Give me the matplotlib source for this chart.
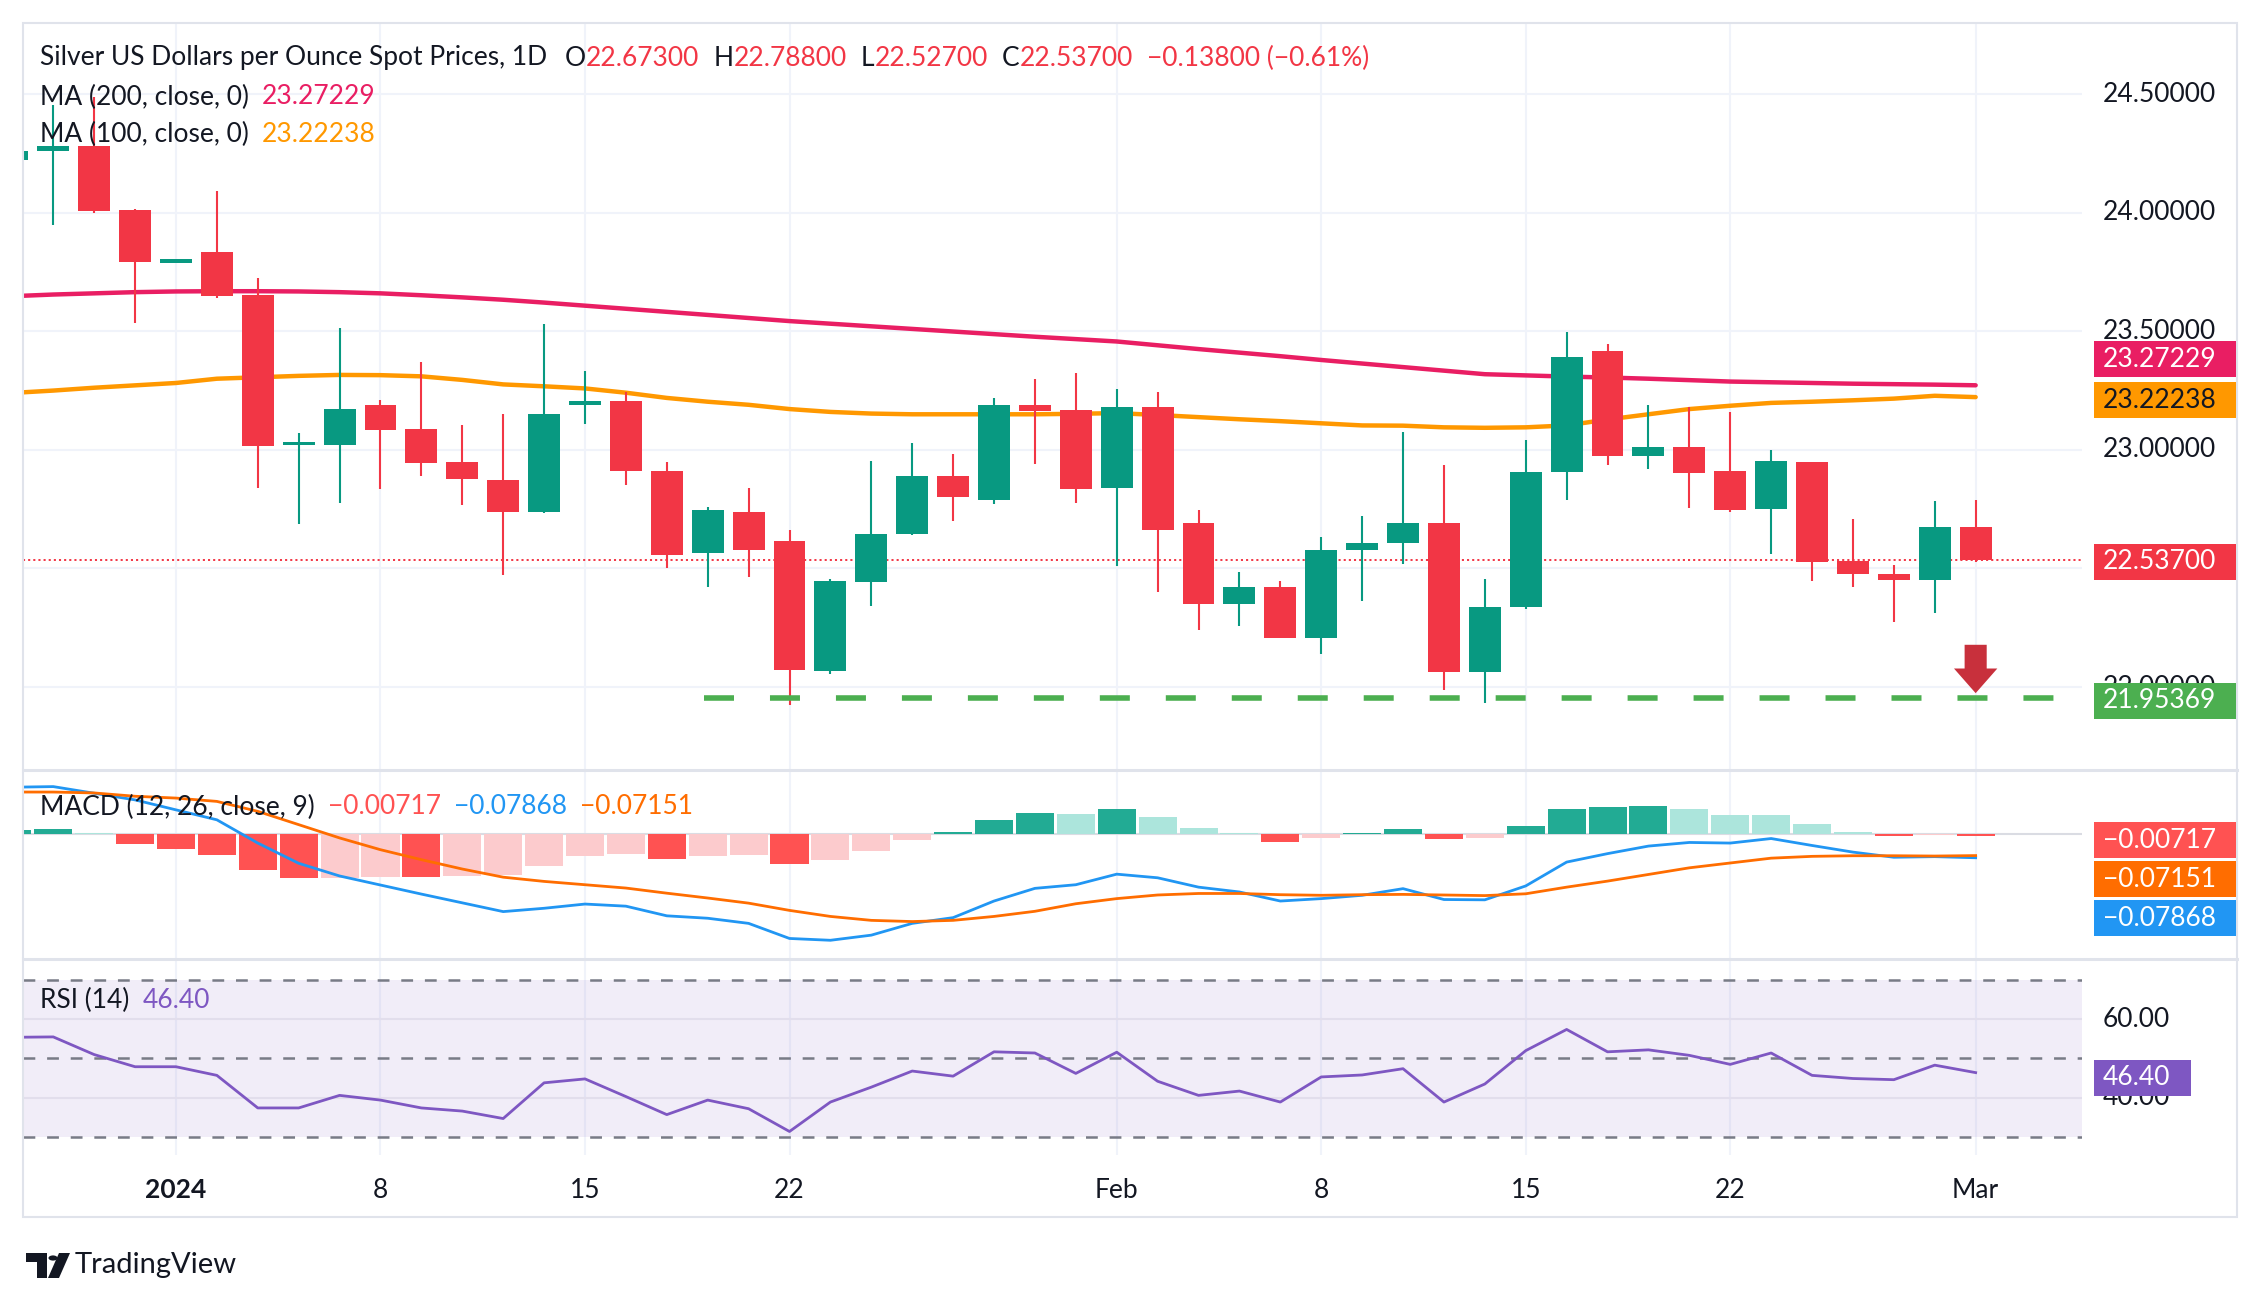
import matplotlib
matplotlib.use("Agg")
import matplotlib.pyplot as plt
from matplotlib.patches import Rectangle, Polygon, Circle
from matplotlib.lines import Line2D
import numpy as np

# ---- data ----
dates = ["2023-12-26", "2023-12-27", "2023-12-28", "2023-12-29",
         "2024-01-01", "2024-01-02", "2024-01-03", "2024-01-04", "2024-01-05",
         "2024-01-08", "2024-01-09", "2024-01-10", "2024-01-11", "2024-01-12",
         "2024-01-15", "2024-01-16", "2024-01-17", "2024-01-18", "2024-01-19",
         "2024-01-22", "2024-01-23", "2024-01-24", "2024-01-25", "2024-01-26",
         "2024-01-29", "2024-01-30", "2024-01-31", "2024-02-01", "2024-02-02",
         "2024-02-05", "2024-02-06", "2024-02-07", "2024-02-08", "2024-02-09",
         "2024-02-12", "2024-02-13", "2024-02-14", "2024-02-15", "2024-02-16",
         "2024-02-19", "2024-02-20", "2024-02-21", "2024-02-22", "2024-02-23",
         "2024-02-26", "2024-02-27", "2024-02-28", "2024-02-29", "2024-03-01"]

opens = [24.224, 24.262, 24.281, 24.013, 23.790, 23.834, 23.652, 23.020, 23.020,
         23.188, 23.086, 22.947, 22.874, 22.738, 23.190, 23.205, 22.909, 22.564,
         22.740, 22.614, 22.066, 22.441, 22.645, 22.891, 22.788, 23.188, 23.167,
         22.838, 23.179, 22.693, 22.348, 22.422, 22.205, 22.578, 22.607, 22.693,
         22.062, 22.336, 22.907, 23.416, 22.974, 23.014, 22.909, 22.750, 22.947,
         22.533, 22.478, 22.450, 22.673]
highs = [24.270, 24.453, 24.490, 24.016, 23.795, 24.090, 23.724, 23.069, 23.512,
         23.209, 23.369, 23.103, 23.150, 23.530, 23.331, 23.243, 22.947, 22.757,
         22.841, 22.660, 22.457, 22.955, 23.030, 22.981, 23.217, 23.300, 23.322,
         23.255, 23.246, 22.748, 22.483, 22.448, 22.634, 22.719, 23.076, 22.938,
         22.457, 23.040, 23.497, 23.448, 23.188, 23.179, 23.159, 22.998, 22.947,
         22.710, 22.514, 22.786, 22.788]
lows = [24.210, 23.950, 23.997, 23.536, 23.790, 23.641, 22.840, 22.686, 22.776,
        22.834, 22.891, 22.769, 22.474, 22.735, 23.107, 22.853, 22.503, 22.422,
        22.462, 21.926, 22.055, 22.340, 22.641, 22.700, 22.771, 22.940, 22.774,
        22.509, 22.400, 22.241, 22.259, 22.205, 22.141, 22.362, 22.517, 21.986,
        21.931, 22.331, 22.788, 22.936, 22.919, 22.754, 22.738, 22.560, 22.447,
        22.421, 22.272, 22.310, 22.527]
closes = [24.259, 24.282, 24.008, 23.791, 23.795, 23.650, 23.016, 23.026, 23.174,
          23.084, 22.945, 22.876, 22.738, 23.150, 23.200, 22.910, 22.555, 22.745,
          22.578, 22.071, 22.445, 22.647, 22.891, 22.800, 23.188, 23.164, 22.834,
          23.179, 22.662, 22.348, 22.422, 22.205, 22.579, 22.608, 22.693, 22.062,
          22.338, 22.905, 23.390, 22.974, 23.014, 22.902, 22.747, 22.952, 22.526,
          22.476, 22.453, 22.675, 22.537]

ma200 = [23.648, 23.655, 23.660, 23.665, 23.668, 23.669, 23.669, 23.668, 23.665,
         23.660, 23.652, 23.643, 23.633, 23.621, 23.608, 23.595, 23.582, 23.569,
         23.556, 23.543, 23.532, 23.521, 23.510, 23.499, 23.488, 23.477, 23.467,
         23.457, 23.441, 23.425, 23.410, 23.395, 23.379, 23.364, 23.349, 23.334,
         23.319, 23.314, 23.309, 23.305, 23.300, 23.294, 23.288, 23.285, 23.282,
         23.279, 23.277, 23.275, 23.27229]
ma100 = [23.240, 23.250, 23.262, 23.272, 23.282, 23.300, 23.306, 23.312, 23.316,
         23.315, 23.310, 23.295, 23.276, 23.268, 23.259, 23.241, 23.219, 23.203,
         23.190, 23.172, 23.160, 23.153, 23.150, 23.150, 23.150, 23.150, 23.152,
         23.155, 23.147, 23.138, 23.129, 23.121, 23.112, 23.103, 23.102, 23.095,
         23.093, 23.095, 23.103, 23.128, 23.150, 23.172, 23.186, 23.198, 23.203,
         23.209, 23.216, 23.228, 23.22238]

support_level = 21.95369
support_start = "2024-01-18"
arrow_top = 22.178
arrow_tip = 21.974

macd = [0.155, 0.157, 0.135, 0.113, 0.080, 0.047, -0.030, -0.097, -0.139,
        -0.169, -0.199, -0.228, -0.257, -0.246, -0.232, -0.239, -0.271, -0.279,
        -0.296, -0.346, -0.352, -0.335, -0.296, -0.277, -0.222, -0.180, -0.168,
        -0.133, -0.145, -0.176, -0.192, -0.222, -0.214, -0.203, -0.181, -0.217,
        -0.218, -0.172, -0.093, -0.065, -0.040, -0.028, -0.030, -0.015, -0.038,
        -0.060, -0.077, -0.075, -0.07868]
signal = [0.139, 0.139, 0.136, 0.125, 0.119, 0.108, 0.075, 0.031, -0.013,
          -0.052, -0.085, -0.116, -0.143, -0.157, -0.168, -0.179, -0.196, -0.212,
          -0.229, -0.253, -0.273, -0.286, -0.290, -0.286, -0.273, -0.256, -0.231,
          -0.214, -0.202, -0.197, -0.197, -0.201, -0.203, -0.201, -0.200, -0.202,
          -0.204, -0.198, -0.176, -0.156, -0.134, -0.112, -0.096, -0.080, -0.074,
          -0.072, -0.072, -0.073, -0.07151]
hist = [0.013, 0.015, 0.003, -0.032, -0.049, -0.069, -0.118, -0.146, -0.145,
        -0.141, -0.143, -0.138, -0.137, -0.105, -0.072, -0.065, -0.082, -0.072,
        -0.071, -0.099, -0.086, -0.056, -0.019, 0.008, 0.047, 0.068, 0.065,
        0.082, 0.055, 0.019, 0.004, -0.027, -0.012, 0.004, 0.017, -0.015,
        -0.014, 0.026, 0.083, 0.090, 0.093, 0.083, 0.064, 0.063, 0.034,
        0.008, -0.006, -0.004, -0.00717]

rsi = [55.4, 55.5, 51.0, 47.9, 47.9, 45.7, 37.4, 37.4, 40.6, 39.4, 37.4, 36.6,
       34.7, 43.8, 44.8, 40.3, 35.7, 39.4, 37.2, 31.4, 38.9, 42.7, 46.8, 45.5,
       51.7, 51.4, 46.2, 51.6, 44.2, 40.6, 41.7, 38.9, 45.3, 45.8, 47.4, 38.9,
       43.5, 52.0, 57.4, 51.7, 52.2, 50.8, 48.5, 51.4, 45.7, 44.9, 44.6, 48.3,
       46.40]

tick_dates = ["2024-01-01", "2024-01-08", "2024-01-15", "2024-01-22", "2024-02-01",
              "2024-02-08", "2024-02-15", "2024-02-22", "2024-03-01"]
tick_labels = ["2024", "8", "15", "22", "Feb", "8", "15", "22", "Mar"]
price_ticks = [22.0, 22.5, 23.0, 23.5, 24.0, 24.5]
rsi_ticks = [40.0, 60.0]

# ---- style ----
W, H, DPI = 2255, 1297, 100
FS = 19
TXT = "#131722"
GRID = "#F0F3FA"
BORDER = "#E0E3EB"
UP, DOWN = "#089981", "#F23645"

plt.rcParams["font.family"] = ["Lato", "DejaVu Sans"]
plt.rcParams["lines.scale_dashes"] = False

o, h, l, c = map(np.array, (opens, highs, lows, closes))
x = np.arange(len(dates))
ticks = [dates.index(d) for d in tick_dates]
XLIM = (0.26, 50.6)

fig = plt.figure(figsize=(W / DPI, H / DPI), dpi=DPI)
fig.patch.set_facecolor("white")


def px_rect(x0, y0, x1, y1):
    return [x0 / W, 1 - y1 / H, (x1 - x0) / W, (y1 - y0) / H]


def make_ax(y0, y1, ylim):
    ax = fig.add_axes(px_rect(23, y0, 2082, y1))
    ax.set_xlim(*XLIM)
    ax.set_ylim(*ylim)
    ax.set_xticks([])
    ax.set_yticks([])
    for s in ax.spines.values():
        s.set_visible(False)
    for t in ticks:
        ax.axvline(t, color=GRID, lw=1.5, zorder=0)
    return ax


ax = make_ax(23, 770, (21.65, 24.80))
ax_macd = make_ax(770, 959, (-0.414, 0.212))
ax_rsi = make_ax(959, 1155, (25.41, 75.35))


def y_px(axis, v):
    return H - axis.transData.transform((0, v))[1]


def fig_text(xp, yp, s, **kw):
    kw.setdefault("fontsize", FS)
    kw.setdefault("color", TXT)
    kw.setdefault("va", "center")
    return fig.text(xp / W, 1 - yp / H, s, **kw)


def fmt(v, nd):
    return f"{v:.{nd}f}".replace("-", "\u2212")


# ---- main pane ----
for p in price_ticks:
    ax.axhline(p, color=GRID, lw=1.5, zorder=0)

ax.plot(x, ma200, color="#E91E63", lw=3.2, solid_capstyle="round", zorder=2)
ax.plot(x, ma100, color="#FF9800", lw=3.2, solid_capstyle="round", zorder=2)

colors = np.where(c >= o, UP, DOWN)
ax.vlines(x, l, h, colors=colors, lw=1.5, zorder=3)
body_h = np.maximum(np.abs(c - o), 0.014)
ax.bar(x, body_h, bottom=np.minimum(o, c), width=0.78, color=colors, lw=0, zorder=4)

ax.axhline(c[-1], color=DOWN, lw=1.4, ls=(0, (1.5, 2.2)), zorder=2)

ax.hlines(support_level, dates.index(support_start) - 0.1, XLIM[1], colors="#4CAF50",
          lw=4, linestyles=(0, (21.6, 25.9)), zorder=3)
ax.arrow(len(dates) - 1, arrow_top, 0, arrow_tip - arrow_top, width=0.54, head_width=1.06,
         head_length=0.104, length_includes_head=True, color="#C8303C", lw=0, zorder=6)

# ---- MACD pane ----
ax_macd.axhline(0, color="#DADCE3", lw=1.5, zorder=1)
hcols = []
for i, v in enumerate(hist):
    prev = hist[i - 1] if i > 0 else 0
    if v >= 0:
        hcols.append("#22AB94" if v >= prev else "#ACE5DC")
    else:
        hcols.append("#FF5252" if v < prev else "#FCCBCD")
ax_macd.bar(x, hist, width=0.93, color=hcols, lw=0, zorder=2)
ax_macd.plot(x, macd, color="#2196F3", lw=2, zorder=3)
ax_macd.plot(x, signal, color="#FF6D00", lw=2, zorder=3)

# ---- RSI pane ----
ax_rsi.axhspan(30, 70, color="#7E57C2", alpha=0.1, lw=0, zorder=0)
for v in rsi_ticks:
    ax_rsi.axhline(v, color="#E2DEEC", lw=1.5, zorder=1)
for v in (30, 50, 70):
    ax_rsi.axhline(v, color="#787B86", lw=1.8, ls=(0, (8.5, 8.5)), zorder=2)
ax_rsi.plot(x, rsi, color="#7E57C2", lw=2, zorder=3)

# ---- frame and separators ----
for yy in (770, 959):
    fig.add_artist(Line2D([23 / W, 2237 / W], [1 - yy / H] * 2, color=BORDER, lw=2.2))
fig.add_artist(Rectangle((23 / W, 1 - 1217 / H), 2214 / W, 1194 / H, fill=False,
                         ec=BORDER, lw=1.5, transform=fig.transFigure))


def label_box(yp, text, fc, tc="white", width=142):
    fig.add_artist(Rectangle((2094 / W, 1 - (yp + 18) / H), width / W, 36 / H,
                             fc=fc, ec="none", transform=fig.transFigure, zorder=5))
    fig_text(2103, yp, text, color=tc, zorder=6)
    return yp


# ---- value labels on the price scale ----
boxes = []
y_orange = y_px(ax, ma100[-1]) + 3
y_pink = min(y_px(ax, ma200[-1]), y_orange - 41)
boxes.append(label_box(y_pink, fmt(ma200[-1], 5), "#E91E63"))
boxes.append(label_box(y_orange, fmt(ma100[-1], 5), "#FF9800", tc=TXT))
boxes.append(label_box(y_px(ax, c[-1]) + 2, fmt(c[-1], 5), DOWN))
boxes.append(label_box(y_px(ax, support_level) + 3, fmt(support_level, 5), "#4CAF50"))

# scale ticks; a tick that sits right under a value box is hidden, as in the reference
for p in price_ticks:
    yp = y_px(ax, p)
    if all(abs(yp - b) > 12 for b in boxes):
        fig_text(2103, yp, f"{p:.5f}")

stack = sorted([(y_px(ax_macd, hist[-1]), hist[-1], "#FF5252"),
                (y_px(ax_macd, signal[-1]), signal[-1], "#FF6D00"),
                (y_px(ax_macd, macd[-1]), macd[-1], "#2196F3")])
last_y = -1e9
for yp, v, col in stack:
    yp = max(yp + 4, last_y + 39)
    label_box(yp, fmt(v, 5), col)
    last_y = yp

for v in rsi_ticks:
    fig_text(2103, y_px(ax_rsi, v), f"{v:.2f}")
label_box(y_px(ax_rsi, rsi[-1]) + 5, fmt(rsi[-1], 2), "#7E57C2", width=97)

# ---- date axis ----
for t, lab in zip(ticks, tick_labels):
    xp = ax.transData.transform((t, 0))[0]
    fig_text(xp, 1190, lab, ha="center", fontweight="bold" if lab == "2024" else "normal")

# ---- legends ----
renderer = fig.canvas.get_renderer()


def draw_pieces(yp, pieces, xp=40):
    for s, col, gap in pieces:
        t = fig_text(xp, yp, s, color=col, zorder=7)
        xp += t.get_window_extent(renderer).width + gap


chg = c[-1] - c[-2]
draw_pieces(58, [("Silver US Dollars per Ounce Spot Prices, 1D", TXT, 18),
                 ("O", TXT, 0), (fmt(o[-1], 5), DOWN, 14),
                 ("H", TXT, 0), (fmt(h[-1], 5), DOWN, 14),
                 ("L", TXT, 0), (fmt(l[-1], 5), DOWN, 14),
                 ("C", TXT, 0), (fmt(c[-1], 5), DOWN, 14),
                 (f"{fmt(chg, 5)} ({fmt(chg / c[-2] * 100, 2)}%)", DOWN, 0)])
draw_pieces(97, [("MA (200, close, 0)", TXT, 13), (fmt(ma200[-1], 5), "#E91E63", 0)])
draw_pieces(134, [("MA (100, close, 0)", TXT, 13), (fmt(ma100[-1], 5), "#FF9800", 0)])
draw_pieces(807, [("MACD (12, 26, close, 9)", TXT, 13), (fmt(hist[-1], 5), "#FF5252", 13),
                  (fmt(macd[-1], 5), "#2196F3", 13), (fmt(signal[-1], 5), "#FF6D00", 0)])
draw_pieces(1000, [("RSI (14)", TXT, 13), (fmt(rsi[-1], 2), "#7E57C2", 0)])

# ---- TradingView mark ----
logo = [Polygon([(26, 1253), (47, 1253), (47, 1278), (37, 1278), (37, 1262), (26, 1262)]),
        Circle((53, 1258), 4.5),
        Polygon([(59, 1253), (70, 1253), (59, 1278), (48, 1278)])]
for patch in logo:
    if isinstance(patch, Polygon):
        xy = patch.get_xy()
        patch.set_xy(np.column_stack([xy[:, 0] / W, 1 - xy[:, 1] / H]))
    else:
        patch.center = (patch.center[0] / W, 1 - patch.center[1] / H)
        patch.set_radius(patch.get_radius() / W)
    patch.set_transform(fig.transFigure)
    patch.set_facecolor(TXT)
    patch.set_edgecolor("none")
    fig.add_artist(patch)
fig_text(75, 1265, "TradingView", fontsize=21)

fig.savefig("out.png", dpi=DPI, facecolor="white")
